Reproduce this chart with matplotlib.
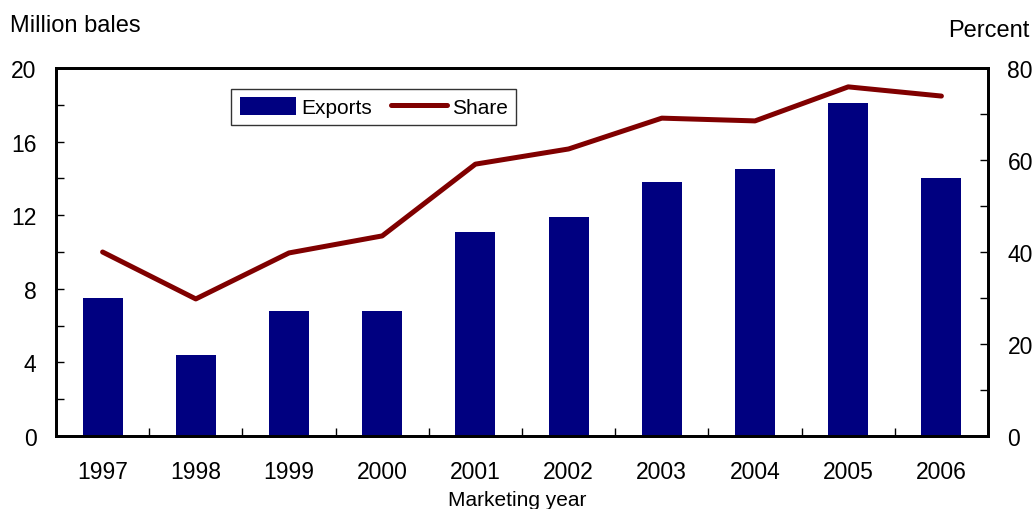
import numpy as np
import matplotlib.pyplot as plt
from matplotlib.ticker import MultipleLocator, FixedLocator

plt.rcParams['font.family'] = ['Liberation Sans', 'DejaVu Sans']

years = ['1997', '1998', '1999', '2000', '2001', '2002', '2003', '2004', '2005', '2006']
exports = [7.5, 4.4, 6.8, 6.8, 11.1, 11.9, 13.8, 14.5, 18.1, 14.0]
share = [40.0, 29.8, 39.8, 43.5, 59.1, 62.4, 69.1, 68.5, 75.9, 73.9]

fig = plt.figure(figsize=(10.35, 5.1), dpi=100)
ax = fig.add_axes([0.0541, 0.1431, 0.9005, 0.7216])
ax2 = ax.twinx()

x = np.arange(len(years))
bars = ax.bar(x, exports, width=0.43, color='#000080', label='Exports', zorder=2)
line, = ax2.plot(x, share, color='#800000', linewidth=3.6, solid_capstyle='round',
                 solid_joinstyle='round', label='Share')

ax.set_xlim(-0.5, len(years) - 0.5)
ax.set_ylim(0, 20)
ax2.set_ylim(0, 80)

# year labels under the bars, small ticks between the years
ax.set_xticks(x)
ax.set_xticklabels(years, fontsize=16.5)
ax.xaxis.set_minor_locator(FixedLocator(np.arange(0.5, len(years) - 1, 1)))
ax.tick_params(axis='x', which='major', length=0, pad=17)
ax.tick_params(axis='x', which='minor', direction='in', length=6, width=1)

ax.yaxis.set_major_locator(MultipleLocator(4))
ax.yaxis.set_minor_locator(MultipleLocator(2))
ax.tick_params(axis='y', which='both', direction='in', length=6, width=1, labelsize=16.5, pad=14)

ax2.yaxis.set_major_locator(MultipleLocator(20))
ax2.yaxis.set_minor_locator(MultipleLocator(10))
ax2.tick_params(axis='y', which='both', direction='in', length=6, width=1, labelsize=16.5, pad=14)

for a in (ax, ax2):
    for s in a.spines.values():
        s.set_linewidth(2)

fig.text(0.01, 0.95, 'Million bales', fontsize=17, va='center', ha='left')
fig.text(0.995, 0.94, 'Percent', fontsize=17, va='center', ha='right')
fig.text(0.5, 0.018, 'Marketing year', fontsize=15, va='center', ha='center')

leg = ax2.legend([bars, line], ['Exports', 'Share'], loc='upper left',
                 bbox_to_anchor=(0.188, 0.943), ncol=2, fontsize=15, frameon=True,
                 fancybox=False, edgecolor='black', borderpad=0.4, handlelength=2.7,
                 handleheight=0.9, handletextpad=0.25, columnspacing=0.9, borderaxespad=0)
leg.get_frame().set_linewidth(1)

fig.savefig('out.png', dpi=100)
